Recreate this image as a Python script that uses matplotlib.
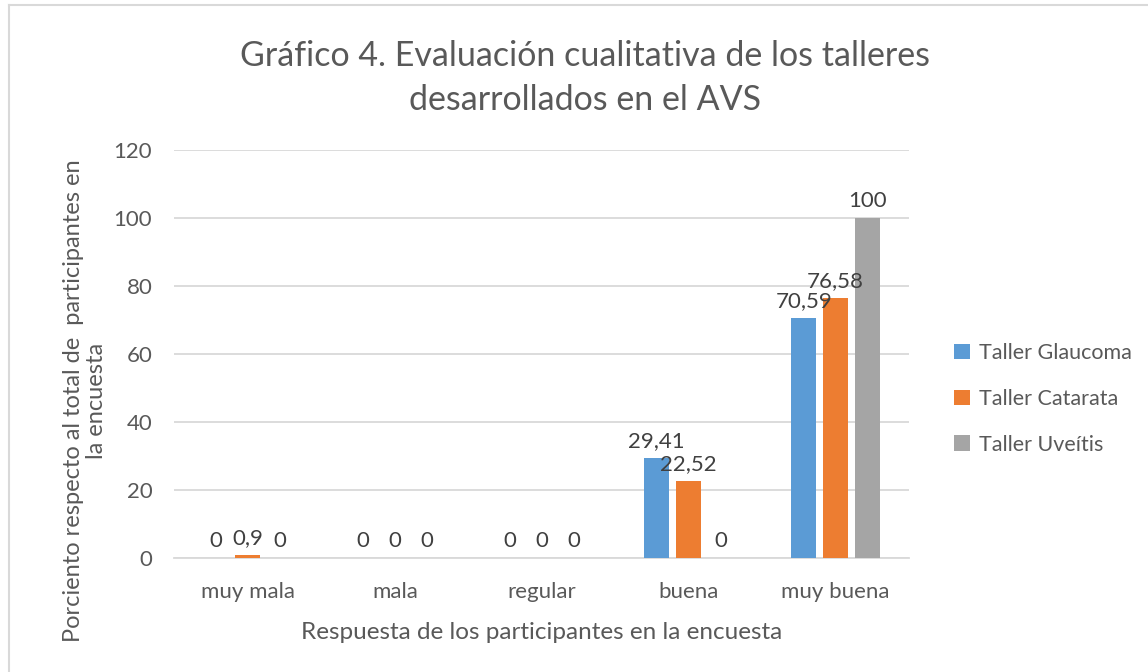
import numpy as np
import matplotlib.pyplot as plt
from matplotlib.lines import Line2D

plt.rcParams['font.family'] = ['Lato', 'DejaVu Sans']

# data
categories = ["muy mala", "mala", "regular", "buena", "muy buena"]
glaucoma = [0, 0, 0, 29.41, 70.59]
catarata = [0.9, 0, 0, 22.52, 76.58]
uveitis = [0, 0, 0, 0, 100]
series_names = ["Taller Glaucoma", "Taller Catarata", "Taller Uveítis"]
colors = ["#5B9BD5", "#ED7D31", "#A5A5A5"]

fig = plt.figure(figsize=(11.48, 6.72), dpi=100)
ax = fig.add_axes([0.152, 0.1696, 0.640, 0.6072])

x = np.arange(len(categories))
width = 0.17
step = 0.218
text_col = "#404040"

for i, (vals, name, col) in enumerate(zip([glaucoma, catarata, uveitis], series_names, colors)):
    pos = x + (i - 1) * step
    bars = ax.bar(pos, vals, width, color=col, label=name, zorder=3)
    for b, v in zip(bars, vals):
        lab = ("%g" % v).replace(".", ",")
        ax.annotate(lab, (b.get_x() + b.get_width() / 2, v), xytext=(0, 5),
                    textcoords="offset points", ha="center", va="bottom",
                    fontsize=16, color=text_col, zorder=6)

ax.set_xlim(-0.5, len(categories) - 0.5)
ax.set_ylim(0, 120)
ax.set_yticks(range(0, 121, 20))
ax.set_xticks(x)
ax.set_xticklabels(categories)
ax.grid(axis="y", color="#D9D9D9", linewidth=1.3, zorder=0)
for s in ["top", "right", "left"]:
    ax.spines[s].set_visible(False)
ax.spines["bottom"].set_color("#D9D9D9")
ax.spines["bottom"].set_linewidth(1.3)
ax.tick_params(axis="both", length=0, labelsize=16, colors="#595959")
ax.tick_params(axis="y", pad=16)
ax.tick_params(axis="x", pad=17)

ax.set_xlabel("Respuesta de los participantes en la encuesta", fontsize=17.5,
              color="#595959", labelpad=15)
fig.text(85 / 1148, 1 - 401 / 672,
         "Porciento respecto al total de  participantes en\nla encuesta",
         rotation=90, ha="center", va="center", fontsize=17, color="#595959",
         linespacing=1.15)

fig.text(585 / 1148, 1 - 78 / 672,
         "Gráfico 4. Evaluación cualitativa de los talleres\ndesarrollados en el AVS",
         ha="center", va="center", fontsize=24.5, color="#595959", linespacing=1.48)

leg = ax.legend(loc="center left", bbox_to_anchor=(1.035, 0.39), frameon=False,
                fontsize=15.5, handlelength=0.75, handleheight=0.75,
                handletextpad=0.4, labelspacing=1.2)
for t in leg.get_texts():
    t.set_color("#595959")

# light frame lines at top and left, like the source
fig.add_artist(Line2D([9 / 1148, 9 / 1148], [0, 1 - 5 / 672], color="#D9D9D9", lw=1.5))
fig.add_artist(Line2D([9 / 1148, 1], [1 - 5 / 672, 1 - 5 / 672], color="#D9D9D9", lw=1.5))

fig.savefig("out.png", dpi=100)
